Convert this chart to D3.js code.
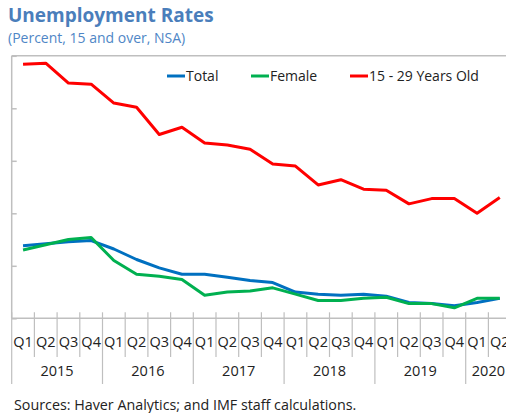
<!DOCTYPE html>
<html>
<head>
<meta charset="utf-8">
<script src="https://cdn.jsdelivr.net/npm/d3@7"></script>
<style>
  body { margin: 0; background: #fff; }
  svg { display: block; font-family: "Open Sans", "Noto Sans", sans-serif; }
</style>
</head>
<body>
<div class="chart"></div>
<script>
// quarters Q1 2015 .. Q2 2020
var years = [`2015`, `2016`, `2017`, `2018`, `2019`, `2020`];
var quarters = [`Q1`, `Q2`, `Q3`, `Q4`];
var periods = [];
years.forEach(y => quarters.forEach(q => periods.push(`${y}${q}`)));
periods = periods.slice(0, 22);

var total = [6.9, 7.1, 7.3, 7.4, 6.6, 5.6, 4.8, 4.2, 4.2, 3.9, 3.6, 3.4, 2.5, 2.3, 2.2, 2.3, 2.1, 1.5, 1.4, 1.2, 1.5, 1.9];
var female = [6.5, 7.0, 7.5, 7.7, 5.5, 4.2, 4.0, 3.7, 2.2, 2.5, 2.6, 2.9, 2.3, 1.7, 1.7, 1.9, 2.0, 1.4, 1.4, 1.0, 1.9, 1.9];
var youth = [24.2, 24.3, 22.4, 22.3, 20.5, 20.1, 17.5, 18.2, 16.7, 16.5, 16.1, 14.7, 14.5, 12.7, 13.2, 12.3, 12.2, 10.9, 11.4, 11.4, 10.0, 11.5];

var seriesNames = [`Total`, `Female`, `15 - 29 Years Old`];
var seriesColors = [`#0070C0`, `#00B050`, `#FF0000`];
var yTicks = [0, 5, 10, 15, 20, 25];

var fullWidth = 506;
var fullHeight = 413;
var plot = {left: 11.7, top: 55.8, bottom: 318.3, step: 22.7};

var svg = d3.select(`.chart`)
    .append(`svg`)
    .attr(`width`, fullWidth)
    .attr(`height`, fullHeight);

var xScale = d3.scaleBand()
    .domain(periods)
    .range([plot.left, plot.left + plot.step * periods.length])
    .padding(0);

var yScale = d3.scaleLinear()
    .domain([0, 25])
    .range([plot.bottom, plot.top]);

var axisColor = `#bfbfbf`;

// title
svg.append(`text`)
    .attr(`x`, 8)
    .attr(`y`, 22)
    .style(`font-size`, `19px`)
    .style(`font-weight`, `bold`)
    .style(`fill`, `#4A7EBB`)
    .text(`Unemployment Rates`);

svg.append(`text`)
    .attr(`x`, 8)
    .attr(`y`, 43)
    .style(`font-size`, `14px`)
    .style(`fill`, `#4F86C6`)
    .text(`(Percent, 15 and over, NSA)`);

// top border
svg.append(`line`)
    .attr(`x1`, plot.left).attr(`x2`, fullWidth)
    .attr(`y1`, yScale(25)).attr(`y2`, yScale(25))
    .style(`stroke`, axisColor)
    .style(`stroke-width`, 1.5);

// y axis, no labels, ticks inside
var yAxis = d3.axisRight(yScale)
    .tickValues(yTicks)
    .tickSize(5)
    .tickFormat(``);

svg.append(`g`)
    .attr(`transform`, `translate(${plot.left},0)`)
    .call(yAxis)
    .call(g => g.select(`.domain`).remove())
    .call(g => g.selectAll(`line`).style(`stroke`, axisColor).style(`stroke-width`, 1.5));

svg.append(`line`)
    .attr(`x1`, plot.left).attr(`x2`, plot.left)
    .attr(`y1`, yScale(25)).attr(`y2`, plot.bottom)
    .style(`stroke`, axisColor)
    .style(`stroke-width`, 1.5);

// x axis
svg.append(`line`)
    .attr(`x1`, plot.left).attr(`x2`, fullWidth)
    .attr(`y1`, plot.bottom).attr(`y2`, plot.bottom)
    .style(`stroke`, axisColor)
    .style(`stroke-width`, 1.5);

var bounds = periods.map((p, i) => i);
svg.selectAll(`.qsep`)
    .data(bounds)
    .enter()
    .append(`line`)
    .attr(`class`, `qsep`)
    .attr(`x1`, i => xScale(periods[i]))
    .attr(`x2`, i => xScale(periods[i]))
    .attr(`y1`, plot.bottom - 6)
    .attr(`y2`, i => i % 4 === 0 ? 384 : 357)
    .style(`stroke`, axisColor)
    .style(`stroke-width`, 1.2);

svg.selectAll(`.qlabel`)
    .data(periods)
    .enter()
    .append(`text`)
    .attr(`class`, `qlabel`)
    .attr(`x`, d => xScale(d) + xScale.bandwidth() / 2)
    .attr(`y`, 347)
    .style(`text-anchor`, `middle`)
    .style(`font-size`, `14.5px`)
    .style(`fill`, `#222`)
    .text(d => d.slice(4));

svg.selectAll(`.ylabel`)
    .data(years)
    .enter()
    .append(`text`)
    .attr(`class`, `ylabel`)
    .attr(`x`, y => {
        var inYear = periods.filter(p => p.slice(0, 4) === y);
        var x0 = xScale(inYear[0]);
        var x1 = xScale(inYear[inYear.length - 1]) + xScale.bandwidth();
        return (x0 + x1) / 2;
    })
    .attr(`y`, 376)
    .style(`text-anchor`, `middle`)
    .style(`font-size`, `14.5px`)
    .style(`fill`, `#222`)
    .text(y => y);

// lines
var line = d3.line()
    .x((d, i) => xScale(periods[i]) + xScale.bandwidth() / 2)
    .y(d => yScale(d));

[total, female, youth].forEach((s, k) => {
    svg.append(`path`)
        .datum(s)
        .attr(`d`, line)
        .style(`fill`, `none`)
        .style(`stroke`, seriesColors[k])
        .style(`stroke-width`, 3)
        .style(`stroke-linejoin`, `round`);
});

// legend
var legendX = [167, 251, 350];
var legend = svg.selectAll(`.legend`)
    .data(seriesNames)
    .enter()
    .append(`g`)
    .attr(`class`, `legend`)
    .attr(`transform`, (d, i) => `translate(${legendX[i]}, 76)`);

legend.append(`line`)
    .attr(`x1`, 0).attr(`x2`, 18)
    .attr(`y1`, 0).attr(`y2`, 0)
    .style(`stroke`, (d, i) => seriesColors[i])
    .style(`stroke-width`, 3);

legend.append(`text`)
    .attr(`x`, 19)
    .attr(`y`, 5)
    .style(`font-size`, `14px`)
    .style(`fill`, `#222`)
    .text(d => d);

// source
svg.append(`text`)
    .attr(`x`, 14)
    .attr(`y`, 410)
    .style(`font-size`, `14.3px`)
    .style(`fill`, `#222`)
    .text(`Sources: Haver Analytics; and IMF staff calculations.`);
</script>
</body>
</html>
